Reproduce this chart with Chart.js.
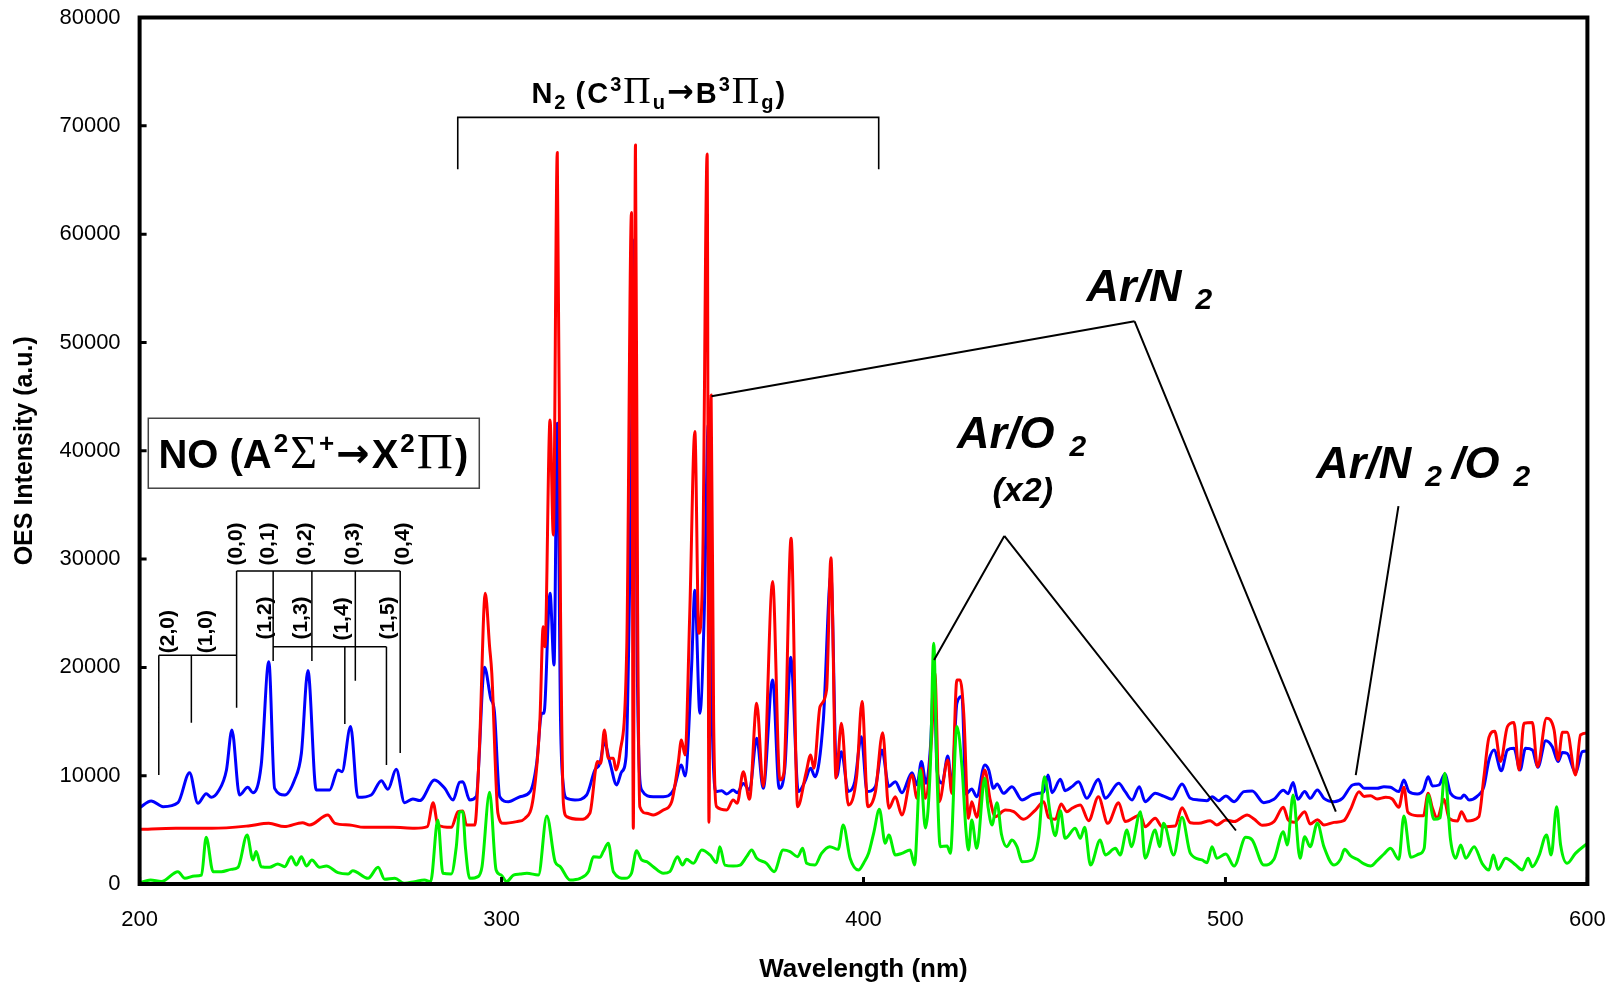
<!DOCTYPE html>
<html>
<head>
<meta charset="utf-8">
<script src="https://cdn.jsdelivr.net/npm/chart.js@4.4.0/dist/chart.umd.min.js"></script>
<style>
  html, body { margin: 0; padding: 0; background: #fff; }
  #wrap { width: 1610px; height: 985px; }
</style>
</head>
<body>
<div id="wrap"><canvas id="oes" width="1610" height="985"></canvas></div>
<script>
// [wavelength nm, intensity a.u.]
const arN2O2 = [
  [200.0,7050],[203.2,7660],[206.5,7140],[210.6,7510],[213.8,10280],[216.1,7450],[218.4,8340],[219.8,8000],
  [221.7,8530],[224.0,10530],[225.5,14220],[227.6,8220],[229.9,8930],[231.3,8430],[233.6,10990],[235.7,20530],
  [237.3,8830],[240.1,8220],[242.8,9600],[244.7,12070],[246.5,19700],[248.8,8680],[252.5,8680],[254.8,10530],
  [255.9,10370],[258.3,14530],[260.3,8000],[264.0,8220],[266.8,9540],[268.6,8740],[270.9,10590],[273.2,7510],
  [275.5,7850],[277.4,7700],[281.5,9600],[284.3,8830],[286.6,7760],[288.4,9390],[289.3,9450],[291.2,7760],
  [293.0,8060],[295.3,20010],[297.0,17140],[298.0,16000],[299.5,8060],[301.9,7600],[305.1,8060],[307.9,8530],
  [309.7,11140],[311.1,15760],[311.7,15760],[313.4,26840],[314.5,20220],[315.4,42540],[316.3,15000],[317.1,8990],
  [318.0,7910],[320.3,7760],[323.5,8220],[325.8,10530],[327.2,11140],[328.4,13050],[330.0,11140],[331.8,9140],
  [333.2,10370],[334.4,11760],[335.5,30000],[336.7,59470],[337.5,20000],[338.7,8680],[341.9,8060],[344.7,8060],
  [347.5,8680],[349.7,10990],[350.7,9970],[352.5,20000],[353.4,27110],[354.8,15760],[356.0,25000],[357.1,42380],
  [358.2,15000],[359.2,8530],[360.8,8620],[362.2,8310],[364.0,8680],[365.1,8430],[366.8,9290],[368.5,8680],
  [370.5,13450],[372.3,8830],[374.9,18840],[376.7,8830],[378.3,10830],[379.9,20930],[382.0,8530],[383.8,9450],
  [385.4,10680],[386.6,9910],[388.9,15140],[391.0,28500],[392.6,9910],[393.9,12220],[395.8,8530],[397.6,9450],
  [399.4,13600],[401.0,8530],[403.3,9000],[405.1,12370],[407.0,9000],[408.8,9450],[410.6,8430],[413.4,10280],
  [414.8,9140],[416.0,11300],[417.3,9300],[418.5,12680],[419.5,19500],[420.3,10530],[421.7,9300],[423.3,11820],
  [424.4,9000],[425.8,16680],[427.2,17300],[428.3,8310],[429.9,8770],[431.3,8060],[433.5,10990],[434.6,10530],
  [435.9,8830],[436.9,9230],[438.7,8370],[441.0,8990],[443.8,7760],[446.5,8220],[448.4,8370],[449.8,8530],
  [451.0,10070],[452.1,8430],[454.4,9660],[455.7,8620],[457.6,8990],[459.4,9450],[461.7,7910],[464.9,9660],
  [466.8,7910],[470.5,9300],[472.3,8530],[474.2,7760],[476.2,8990],[477.8,7600],[480.6,8370],[482.9,8120],
  [485.2,7820],[488.0,9230],[490.3,7910],[492.6,7760],[494.9,7690],[496.3,8060],[498.1,7690],[500.1,8120],
  [502.4,7600],[505.1,8530],[507.4,8590],[510.6,7510],[513.4,7820],[516.0,8650],[517.3,8340],[518.7,9360],
  [520.0,7820],[521.9,8530],[523.4,7910],[525.4,8680],[527.2,7910],[530.0,7600],[532.3,7910],[535.1,9140],
  [536.9,9230],[538.3,8830],[541.9,8830],[543.8,8990],[545.6,8930],[547.9,8530],[549.3,9600],[550.7,8530],
  [553.0,8310],[554.7,8680],[556.0,9910],[557.2,9050],[559.0,9140],[560.6,10160],[562.2,8370],[565.0,7910],
  [565.9,8220],[567.3,7760],[569.6,8120],[571.4,8990],[572.8,11450],[574.2,12370],[576.2,10450],[577.9,12370],
  [579.7,12530],[581.4,10530],[582.9,12530],[584.8,12370],[586.3,10770],[588.5,13230],[590.3,12680],[591.9,11300],
  [593.1,12130],[594.4,12070],[596.7,10290],[598.6,12220],[600.0,12280]
];

const arN2 = [
  [200.0,5050],[210.0,5140],[220.0,5140],[230.0,5360],[235.7,5600],[240.0,5300],[245.0,5660],[247.0,5450],
  [252.0,6370],[254.0,5600],[258.0,5450],[262.0,5230],[270.0,5230],[276.0,5150],[279.5,5300],[281.1,7510],
  [282.4,5450],[286.1,5230],[288.0,6680],[289.3,6740],[290.3,5450],[292.6,5450],[293.9,12690],[295.5,26840],
  [296.7,21900],[297.3,19500],[299.0,6530],[300.5,5600],[304.2,5760],[306.5,6060],[308.8,8060],[310.6,15140],
  [311.5,23760],[312.0,21900],[313.4,42850],[314.3,32230],[315.4,67530],[316.3,25000],[317.1,7380],[318.0,6220],
  [321.7,5970],[324.4,6530],[326.5,11300],[327.4,11140],[328.4,14220],[329.5,11600],[330.9,11600],[331.6,10530],
  [332.7,12070],[334.6,21900],[335.9,61990],[336.4,5140],[337.0,68240],[337.6,25000],[338.2,7140],[340.1,6530],
  [341.9,6370],[344.7,6830],[347.0,7600],[348.8,11140],[349.7,13300],[350.7,11910],[352.0,25000],[353.4,41770],
  [354.5,23150],[355.6,30000],[356.8,67400],[357.3,5700],[357.9,45150],[358.6,15000],[359.4,7140],[362.2,6830],
  [364.0,7760],[365.1,7450],[366.8,10370],[368.5,7820],[370.5,16680],[372.3,9010],[374.9,27920],[376.9,9600],
  [378.0,10220],[380.0,31920],[381.8,7140],[384.1,10220],[385.4,11910],[386.3,10680],[388.0,16380],[389.8,17920],
  [391.0,30130],[392.4,9780],[393.9,14840],[395.8,7300],[398.1,9910],[399.6,16840],[401.2,7140],[403.3,8530],
  [405.3,13970],[407.0,6990],[408.8,8060],[410.6,6370],[413.4,10070],[414.8,7910],[416.0,10680],[417.1,7910],
  [418.9,13970],[419.7,19500],[420.9,7600],[423.3,11450],[424.4,8370],[425.8,18840],[426.7,18840],[427.7,15700],
  [429.0,6060],[429.9,7600],[431.3,6160],[433.5,10530],[435.0,7760],[436.4,6220],[439.2,6830],[441.5,6680],
  [444.2,5970],[447.5,6830],[449.8,7600],[451.1,6160],[453.0,5970],[454.6,7390],[456.2,6680],[457.6,6990],
  [459.9,7300],[462.2,5850],[464.9,8060],[467.5,5600],[470.5,7510],[472.3,5760],[476.5,6370],[477.8,5290],
  [480.6,6060],[482.5,5290],[486.1,5360],[488.0,7050],[490.3,5660],[492.6,5600],[495.8,5850],[497.6,5450],
  [500.1,5910],[502.4,5760],[506.0,6370],[507.9,6000],[510.2,5420],[513.4,5760],[516.0,7080],[517.3,5940],
  [519.0,5690],[521.9,6680],[523.4,5540],[525.4,5940],[527.2,5450],[530.0,5690],[532.7,5850],[534.6,6920],
  [536.9,8520],[538.3,8090],[540.1,8150],[541.9,7850],[544.3,8000],[546.1,7850],[547.9,7080],[549.3,8930],
  [550.4,6620],[553.0,6310],[554.7,6310],[556.0,8370],[557.2,6990],[558.5,6060],[560.4,7820],[561.8,6060],
  [564.1,5820],[565.2,6680],[566.8,5820],[570.0,6220],[571.4,9850],[572.8,13540],[574.4,14100],[576.0,11300],
  [577.9,14530],[579.7,14900],[581.1,10530],[582.5,14840],[584.8,14900],[586.2,10830],[588.7,15300],[590.8,14220],
  [591.9,11450],[593.1,14010],[594.4,14010],[596.7,10060],[598.1,13760],[600.0,13940]
];

const arO2x2 = [
  [200.0,120],[203.0,370],[206.0,220],[210.6,1140],[212.5,520],[215.2,740],[217.1,830],[218.4,4310],
  [220.3,1140],[222.6,1140],[225.3,1350],[227.2,1540],[229.7,4520],[231.3,2220],[232.2,2990],[233.6,1600],
  [235.9,1540],[238.2,1850],[240.1,1600],[241.9,2520],[243.3,1750],[244.7,2520],[246.1,1660],[247.6,2220],
  [249.7,1540],[251.6,1660],[254.8,1050],[257.6,920],[258.9,1230],[263.1,520],[265.9,1540],[267.7,430],
  [270.5,520],[273.2,60],[276.0,220],[278.7,370],[280.4,220],[282.4,5910],[283.8,990],[286.1,920],
  [287.5,3450],[288.4,6680],[289.3,6680],[290.0,3450],[291.2,520],[293.5,680],[294.6,1600],[296.7,8460],
  [298.5,1290],[299.9,830],[301.4,220],[303.3,830],[305.1,920],[307.0,990],[310.2,830],[312.5,6280],
  [314.8,2060],[316.2,1600],[318.9,370],[321.7,520],[324.0,1140],[325.4,2520],[327.2,2460],[328.1,2990],
  [329.5,3760],[330.9,1140],[334.1,520],[335.9,990],[337.3,3080],[338.7,2220],[340.1,2060],[341.9,1600],
  [344.7,990],[346.5,1140],[348.6,2520],[350.0,1750],[351.1,2280],[353.0,1910],[355.3,3140],[357.6,2680],
  [359.4,1970],[360.3,3450],[361.7,1750],[364.0,1660],[365.9,1750],[367.7,2520],[369.1,3140],[370.5,2370],
  [373.2,1910],[375.3,1140],[377.8,3140],[379.7,2990],[381.8,2520],[383.2,3290],[384.3,1910],[386.6,1750],
  [388.4,2830],[390.7,3450],[393.0,3200],[394.4,5450],[396.3,2370],[398.6,1290],[400.1,1970],[401.4,2830],
  [402.8,4680],[404.4,6890],[406.0,3760],[407.0,4520],[408.8,2680],[410.6,2830],[412.9,3140],[414.1,1750],
  [415.7,10530],[417.1,5170],[418.5,11140],[419.4,22220],[420.3,10220],[421.2,3450],[423.1,3510],[424.0,2830],
  [425.8,14530],[427.2,10840],[428.3,4990],[429.0,3140],[429.9,5910],[431.3,3290],[433.5,9760],[434.4,7140],
  [435.5,5450],[436.9,7510],[438.1,4620],[439.6,3450],[441.0,4060],[442.4,3450],[443.8,2060],[446.5,2220],
  [448.4,4370],[450.0,9910],[451.6,6460],[453.0,4460],[454.4,6770],[455.7,4220],[458.5,5140],[459.9,4220],
  [461.1,5230],[462.7,1750],[465.4,4060],[466.8,2680],[469.6,3290],[470.9,2680],[472.8,4990],[474.0,3450],
  [476.5,6680],[477.8,2380],[480.6,4990],[481.8,3450],[482.9,5600],[485.7,2680],[488.0,6160],[490.3,2830],
  [493.5,2220],[494.9,1970],[496.3,3450],[497.6,2380],[500.1,2770],[502.4,1660],[505.6,4310],[507.4,4060],
  [510.6,1750],[513.4,2280],[516.0,4830],[517.1,3600],[518.7,8220],[520.6,2380],[521.9,4370],[523.4,3450],
  [525.4,5600],[527.2,3450],[530.0,1750],[531.8,2280],[532.9,3200],[534.6,2590],[536.4,2280],[538.3,1850],
  [540.1,1660],[541.9,2160],[543.8,2770],[545.6,3290],[547.9,2280],[549.3,6280],[551.2,2460],[553.5,2770],
  [554.9,3290],[556.0,8220],[557.6,5970],[559.3,6120],[560.6,10220],[562.2,4060],[563.6,2380],[565.0,3600],
  [566.4,2380],[568.7,3450],[570.9,1910],[572.8,1290],[574.0,2680],[575.3,1350],[577.4,2380],[580.2,1750],
  [582.0,1290],[583.6,2380],[584.8,1600],[586.6,2590],[588.7,4520],[590.0,2680],[591.5,7140],[592.6,3600],
  [594.4,1910],[596.7,2830],[600.0,3750]
];

const xTicks = [200, 300, 400, 500, 600];
const yTicks = [0, 10000, 20000, 30000, 40000, 50000, 60000, 70000, 80000];

// annotation anchors, in data units (wavelength, intensity)
const noBox = { x0: 202.4, x1: 293.85, y0: 43000, y1: 36540, textX: 205.2, textY: 38380 };
const n2Bracket = { x0: 287.9, x1: 404.2, top: 70780, foot: 65980, textX: 343.3, textY: 72150 };
const bandLines = [
  [[205.3, 21120], [226.8, 21120]], [[205.3, 21120], [205.3, 10060]], [[214.3, 21120], [214.3, 14890]],
  [[226.8, 28900], [226.8, 16280]], [[226.8, 28900], [272.0, 28900]], [[236.9, 21910], [268.2, 21910]],
  [[236.9, 28900], [236.9, 20590]], [[247.6, 28900], [247.6, 20590]], [[256.7, 21910], [256.7, 14770]],
  [[259.6, 28900], [259.6, 18770]], [[268.2, 21910], [268.2, 10990]], [[272.0, 28900], [272.0, 12100]]
];
const bandLabels = [
  ['(2,0)', 208.0, 23300], ['(1,0)', 218.3, 23300], ['(1,2)', 234.8, 24560], ['(1,3)', 244.7, 24560],
  ['(1,4)', 256.0, 24470], ['(1,5)', 268.8, 24560], ['(0,0)', 226.8, 31390], ['(0,1)', 235.6, 31390],
  ['(0,2)', 245.7, 31390], ['(0,3)', 259.0, 31390], ['(0,4)', 272.9, 31390]
];
const pointerLines = [
  [[474.9, 51950], [358.0, 45030]], [[474.9, 51950], [530.5, 6690]],
  [[438.9, 32130], [419.5, 20680]], [[438.9, 32130], [502.9, 4940]],
  [[547.8, 34880], [536.0, 10060]]
];

const SANS = '"Liberation Sans", Arial, Helvetica, sans-serif';
const SERIF = '"Liberation Serif", "Times New Roman", serif';
const ARROW = '"DejaVu Sans", sans-serif';

function richText(ctx, x, y, parts, align) {
  let w = 0;
  parts.forEach(p => { ctx.font = p[1]; w += ctx.measureText(p[0]).width + (p[3] || 0); });
  let cx = align === 'center' ? x - w / 2 : x;
  ctx.textAlign = 'left';
  ctx.textBaseline = 'alphabetic';
  parts.forEach(p => {
    ctx.font = p[1];
    cx += (p[3] || 0);
    ctx.fillText(p[0], cx, y + p[2]);
    cx += ctx.measureText(p[0]).width;
  });
}

// tick label padding would otherwise be added around the plot area
function noOverhang(s) {
  s.paddingTop = 0; s.paddingBottom = 0; s.paddingLeft = 0; s.paddingRight = 0;
}

const decorations = {
  id: 'decorations',
  afterDraw(chart) {
    const ctx = chart.ctx;
    const xs = chart.scales.x, ys = chart.scales.y;
    const X = v => xs.getPixelForValue(v), Y = v => ys.getPixelForValue(v);
    const a = chart.chartArea;
    ctx.save();
    ctx.strokeStyle = '#000';
    ctx.fillStyle = '#000';

    // frame and inward ticks
    ctx.lineWidth = 4;
    ctx.strokeRect(a.left, a.top, a.right - a.left, a.bottom - a.top);
    ctx.lineWidth = 3;
    ctx.beginPath();
    yTicks.forEach(v => { ctx.moveTo(a.left, Y(v)); ctx.lineTo(a.left + 7, Y(v)); });
    xTicks.forEach(v => { ctx.moveTo(X(v), a.bottom); ctx.lineTo(X(v), a.bottom - 7); });
    ctx.stroke();

    // N2 bracket and label
    ctx.lineWidth = 1.6;
    ctx.beginPath();
    ctx.moveTo(X(n2Bracket.x0), Y(n2Bracket.foot));
    ctx.lineTo(X(n2Bracket.x0), Y(n2Bracket.top));
    ctx.lineTo(X(n2Bracket.x1), Y(n2Bracket.top));
    ctx.lineTo(X(n2Bracket.x1), Y(n2Bracket.foot));
    ctx.stroke();
    const B = `bold 29px ${SANS}`, Bs = `bold 20px ${SANS}`, Gs = `38px ${SERIF}`, Ba = `bold 32px ${ARROW}`;
    richText(ctx, X(n2Bracket.textX), Y(n2Bracket.textY), [
      ['N', B, 0], ['2', Bs, 6, 2], [' (', B, 0, 2], ['C', B, 0, 2], ['3', Bs, -12, 2], ['\u03A0', Gs, 0, 2],
      ['u', Bs, 6, 2], ['\u2192', Ba, -1, 2], ['B', B, 0, 2], ['3', Bs, -12, 2], ['\u03A0', Gs, 0, 2],
      ['g', Bs, 6, 2], [')', B, 0, 2]
    ], 'center');

    // NO box
    ctx.lineWidth = 1.5;
    ctx.strokeStyle = '#444';
    ctx.strokeRect(X(noBox.x0), Y(noBox.y0), X(noBox.x1) - X(noBox.x0), Y(noBox.y1) - Y(noBox.y0));
    ctx.strokeStyle = '#000';
    const NB = `bold 40px ${SANS}`, NS = `bold 26px ${SANS}`, NA = `bold 40px ${ARROW}`;
    const NSig = `46px ${SERIF}`, NPi = `50px ${SERIF}`;
    richText(ctx, X(noBox.textX), Y(noBox.textY), [
      ['NO (A', NB, 0], ['2', NS, -16, 2], ['\u03A3', NSig, 0, 2], ['+', NS, -16, 2], ['\u2192', NA, -1, 2],
      ['X', NB, 0, 2], ['2', NS, -16, 2], ['\u03A0', NPi, 0, 2], [')', NB, 0, 2]
    ], 'left');

    // NO band brackets
    ctx.lineWidth = 1.5;
    ctx.beginPath();
    bandLines.forEach(l => { ctx.moveTo(X(l[0][0]), Y(l[0][1])); ctx.lineTo(X(l[1][0]), Y(l[1][1])); });
    ctx.stroke();
    ctx.font = `bold 21px ${SANS}`;
    ctx.textAlign = 'center';
    ctx.textBaseline = 'middle';
    bandLabels.forEach(l => {
      ctx.save();
      ctx.translate(X(l[1]), Y(l[2]));
      ctx.rotate(-Math.PI / 2);
      ctx.fillText(l[0], 0, 0);
      ctx.restore();
    });

    // pointer lines
    ctx.lineWidth = 2;
    ctx.beginPath();
    pointerLines.forEach(l => { ctx.moveTo(X(l[0][0]), Y(l[0][1])); ctx.lineTo(X(l[1][0]), Y(l[1][1])); });
    ctx.stroke();

    const L = `italic bold 45px ${SANS}`, Ls = `italic bold 30px ${SANS}`;
    richText(ctx, X(461.6), Y(53840), [['Ar/N', L, 0], ['2', Ls, 8, 14]], 'left');
    richText(ctx, X(425.8), Y(40290), [['Ar/O', L, 0], ['2', Ls, 8, 15]], 'left');
    richText(ctx, X(444.0), Y(35370), [['(x2)', `italic bold 34px ${SANS}`, 0]], 'center');
    richText(ctx, X(525.1), Y(37440), [['Ar/N', L, 0], ['2', Ls, 8, 14], ['/O', L, 0, 10], ['2', Ls, 8, 14]], 'left');
    ctx.restore();
  }
};

const toPoints = s => s.map(p => ({ x: p[0], y: p[1] }));

new Chart(document.getElementById('oes'), {
  type: 'line',
  data: {
    datasets: [
      { label: 'Ar/O2 (x2)', data: toPoints(arO2x2), borderColor: '#00f000', borderWidth: 3 },
      { label: 'Ar/N2', data: toPoints(arN2), borderColor: '#ff0000', borderWidth: 3 },
      { label: 'Ar/N2/O2', data: toPoints(arN2O2), borderColor: '#0000ff', borderWidth: 3 }
    ]
  },
  options: {
    responsive: false,
    animation: false,
    devicePixelRatio: 1,
    events: [],
    elements: {
      point: { radius: 0 },
      line: { cubicInterpolationMode: 'monotone', fill: false, borderJoinStyle: 'round' }
    },
    layout: { autoPadding: false, padding: { left: 0, right: 22.6, top: 17.5, bottom: 0 } },
    plugins: { legend: { display: false }, tooltip: { enabled: false } },
    scales: {
      x: {
        type: 'linear', min: 200, max: 600,
        afterBuildTicks: s => { s.ticks = xTicks.map(v => ({ value: v })); },
        afterFit: s => { s.height = 101; noOverhang(s); },
        grid: { display: false, drawTicks: false },
        border: { display: false },
        ticks: { color: '#000', font: { family: SANS, size: 22 }, padding: 23, maxRotation: 0 },
        title: { display: true, text: 'Wavelength (nm)', color: '#000',
                 font: { family: SANS, size: 26, weight: 'bold' }, padding: { top: 0, bottom: 0 } }
      },
      y: {
        min: 0, max: 80000,
        afterBuildTicks: s => { s.ticks = yTicks.map(v => ({ value: v })); },
        afterFit: s => { s.width = 139.6; noOverhang(s); },
        grid: { display: false, drawTicks: false },
        border: { display: false },
        ticks: { color: '#000', font: { family: SANS, size: 22 }, padding: 19, callback: v => String(v) },
        title: { display: true, text: 'OES Intensity (a.u.)', color: '#000',
                 font: { family: SANS, size: 25, weight: 'bold' }, padding: { top: 10, bottom: 0 } }
      }
    }
  },
  plugins: [decorations]
});
</script>
</body>
</html>
